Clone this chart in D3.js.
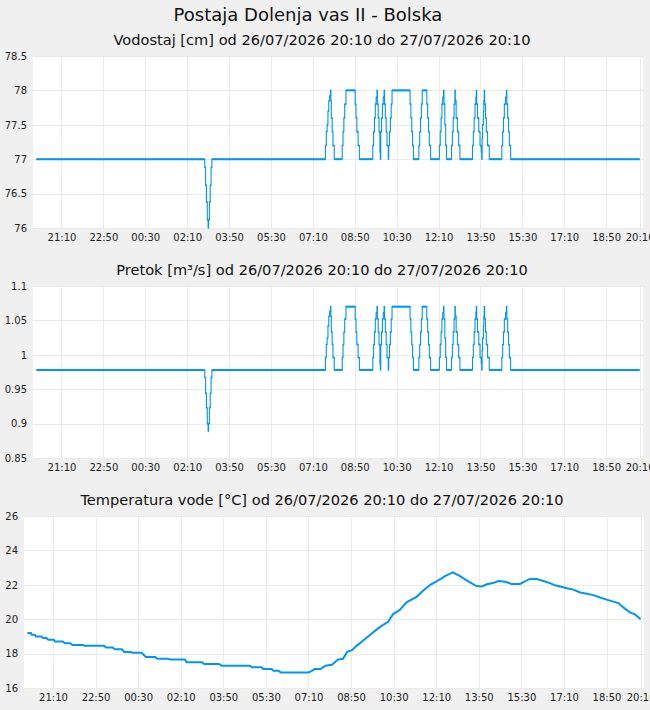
<!DOCTYPE html>
<html>
<head>
<meta charset="utf-8">
<script src="https://cdn.jsdelivr.net/npm/d3@7"></script>
<style>
  html, body { margin: 0; padding: 0; background: #f0f0f0; }
  svg { display: block; font-family: "DejaVu Sans", sans-serif; }
</style>
</head>
<body>
<svg id="chart" width="650" height="710"></svg>
<script>
// ---------- DATA ----------
const mainTitle = "Postaja Dolenja vas II - Bolska";
const panelTitles = [
  "Vodostaj [cm] od 26/07/2026 20:10 do 27/07/2026 20:10",
  "Pretok [m³/s] od 26/07/2026 20:10 do 27/07/2026 20:10",
  "Temperatura vode [°C] od 26/07/2026 20:10 do 27/07/2026 20:10"
];

// x ticks (minutes after 26/07/2026 20:10)
const tickMinutes = [60,160,260,360,460,560,660,760,860,960,1060,1160,1260,1360,1440];
const tickLabels = ["21:10","22:50","00:30","02:10","03:50","05:30","07:10","08:50","10:30","12:10","13:50","15:30","17:10","18:50","20:10"];

// y ticks
const levelTicks = [76, 76.5, 77, 77.5, 78, 78.5];
const flowTicks = [0.85, 0.9, 0.95, 1, 1.05, 1.1];
const tempTicks = [16, 18, 20, 22, 24, 26];

// level & flow: step series, change points (minutes after start)
const stepMinutes = [0,
  402,404,406,408,410,411,413,415,417,419,
  690,692,694,696,698,700,702,703,704,706,708,711,
  730,732,734,736,739,761,763,765,768,771,
  803,805,807,809,811,813,814,816,818,820,821,822,824,826,828,
  830,831,833,835,837,840,841,843,845,847,
  849,892,894,896,898,900,
  913,915,917,919,921,932,934,936,938,941,
  962,964,966,968,970,972,973,975,977,979,
  991,993,995,997,999,1000,1002,1005,1008,1011,
  1041,1043,1045,1047,1049,1050,1051,1053,1056,1059,1062,1063,1064,1065,1067,1068,
  1069,1070,1072,1074,1077,1081,
  1111,1113,1115,1117,1120,1122,1123,1125,1127,1129,1132,
  1440];

const levelValues = [77,
  76.88,76.62,76.38,76.12,76,76.12,76.38,76.62,76.88,77,
  77.2,77.4,77.5,77.7,77.85,77.92,78,77.85,77.6,77.4,77.2,77,
  77.2,77.4,77.6,77.8,78,77.8,77.6,77.4,77.2,77,
  77.2,77.4,77.6,77.8,77.9,78,77.8,77.6,77.4,77.1,77,77.4,77.6,77.8,77.9,
  78,77.8,77.6,77.4,77.2,77,77.2,77.4,77.6,77.8,
  78,77.8,77.6,77.4,77.2,77,
  77.2,77.4,77.6,77.8,78,77.8,77.6,77.4,77.2,77,
  77.2,77.4,77.6,77.8,77.9,78,77.8,77.5,77.2,77,
  77.2,77.4,77.6,77.8,78,77.85,77.6,77.4,77.2,77,
  77.2,77.4,77.6,77.8,77.9,78,77.8,77.6,77.4,77.2,77.1,77,77.3,77.5,77.7,77.85,
  78,77.8,77.6,77.4,77.2,77,
  77.2,77.4,77.6,77.8,77.9,78,77.8,77.6,77.4,77.2,77,
  77];

const flowValues = [0.978,
  0.967,0.944,0.923,0.900,0.889,0.900,0.923,0.944,0.967,0.978,
  0.996,1.015,1.024,1.042,1.056,1.063,1.070,1.056,1.033,1.015,0.996,0.978,
  0.996,1.015,1.033,1.052,1.070,1.052,1.033,1.015,0.996,0.978,
  0.996,1.015,1.033,1.052,1.061,1.070,1.052,1.033,1.015,0.987,0.978,1.015,1.033,1.052,1.061,
  1.070,1.052,1.033,1.015,0.996,0.978,0.996,1.015,1.033,1.052,
  1.070,1.052,1.033,1.015,0.996,0.978,
  0.996,1.015,1.033,1.052,1.070,1.052,1.033,1.015,0.996,0.978,
  0.996,1.015,1.033,1.052,1.061,1.070,1.052,1.024,0.996,0.978,
  0.996,1.015,1.033,1.052,1.070,1.056,1.033,1.015,0.996,0.978,
  0.996,1.015,1.033,1.052,1.061,1.070,1.052,1.033,1.015,0.996,0.987,0.978,1.006,1.024,1.042,1.056,
  1.070,1.052,1.033,1.015,0.996,0.978,
  0.996,1.015,1.033,1.052,1.061,1.070,1.052,1.033,1.015,0.996,0.978,
  0.978];

// temperature
const tempMinutes = [0,8,10,17,20,33,37,45,49,62,65,83,88,100,106,130,135,180,185,200,
  206,222,227,242,247,268,278,300,305,330,335,370,374,410,415,450,456,522,527,550,
  554,573,578,590,595,660,668,675,688,694,700,715,720,729,741,751,762,773,788,805,
  828,847,859,875,891,914,929,946,961,981,999,1016,1035,1055,1067,1079,1093,1106,1122,1137,
  1157,1165,1180,1196,1212,1227,1239,1251,1267,1282,1298,1314,1329,1345,1360,1376,1388,1400,1415,1427,1440];
const tempValues = [19.2,19.2,19.1,19.1,19.0,19.0,18.9,18.9,18.8,18.8,18.7,18.7,18.6,18.6,18.5,18.5,18.45,18.45,18.35,18.35,
  18.25,18.25,18.1,18.1,18.05,18.05,17.8,17.8,17.7,17.7,17.65,17.65,17.5,17.5,17.4,17.4,17.3,17.3,17.2,17.2,
  17.1,17.1,17.0,17.0,16.9,16.9,17.0,17.1,17.1,17.2,17.3,17.35,17.45,17.65,17.7,18.1,18.2,18.45,18.75,19.1,
  19.55,19.85,20.3,20.55,21.0,21.3,21.65,22.0,22.2,22.5,22.72,22.5,22.2,21.93,21.9,22.03,22.1,22.22,22.18,22.05,
  22.05,22.15,22.34,22.34,22.22,22.1,21.97,21.9,21.8,21.72,21.55,21.48,21.4,21.26,21.14,21.02,20.94,20.67,20.4,20.28,20.0];

// ---------- DRAW ----------
const svg = d3.select("#chart");
const lineColor = "#0096f0";
const gridColor = "#ebebeb";

svg.append("text").attr("x", 308).attr("y", 21).attr("text-anchor", "middle")
  .attr("font-size", 18).attr("fill", "#111").text(mainTitle);

const panels = [
  { title: panelTitles[0], titleY: 45, left: 33, right: 643, top: 56, bottom: 228,
    yDomain: [76, 78.5], yTicks: levelTicks, fmt: d3.format("~g"),
    t: stepMinutes, v: levelValues, kind: "step" },
  { title: panelTitles[1], titleY: 275, left: 33, right: 643, top: 286, bottom: 458,
    yDomain: [0.85, 1.1], yTicks: flowTicks, fmt: d3.format("~g"),
    t: stepMinutes, v: flowValues, kind: "step" },
  { title: panelTitles[2], titleY: 505, left: 24, right: 644, top: 516, bottom: 688,
    yDomain: [16, 26], yTicks: tempTicks, fmt: d3.format("~g"),
    t: tempMinutes, v: tempValues, kind: "line" }
];

panels.forEach(p => {
  const x = d3.scaleLinear().domain([-8, 1448]).range([p.left, p.right]);
  const y = d3.scaleLinear().domain(p.yDomain).range([p.bottom, p.top]);
  const g = svg.append("g");

  g.append("text").attr("x", 322).attr("y", p.titleY).attr("text-anchor", "middle")
    .attr("font-size", 14.6).attr("fill", "#111").text(p.title);

  g.append("rect").attr("x", p.left).attr("y", p.top)
    .attr("width", p.right - p.left).attr("height", p.bottom - p.top).attr("fill", "#fff");

  // grid
  g.append("g").selectAll("line").data(tickMinutes).join("line")
    .attr("x1", d => Math.round(x(d)) + 0.5).attr("x2", d => Math.round(x(d)) + 0.5)
    .attr("y1", p.top).attr("y2", p.bottom)
    .attr("stroke", gridColor).attr("stroke-width", 1);
  g.append("g").selectAll("line").data(p.yTicks).join("line")
    .attr("x1", p.left).attr("x2", p.right)
    .attr("y1", d => Math.round(y(d)) + 0.5).attr("y2", d => Math.round(y(d)) + 0.5)
    .attr("stroke", gridColor).attr("stroke-width", 1);

  // axes
  const xAxis = d3.axisBottom(x).tickValues(tickMinutes)
    .tickFormat((d, i) => tickLabels[i]).tickSize(0).tickPadding(6);
  const xg = g.append("g").attr("transform", `translate(0,${p.bottom})`).call(xAxis);
  const yAxis = d3.axisLeft(y).tickValues(p.yTicks).tickFormat(p.fmt).tickSize(0).tickPadding(6);
  const yg = g.append("g").attr("transform", `translate(${p.left},0)`).call(yAxis);
  [xg, yg].forEach(a => {
    a.select(".domain").remove();
    a.selectAll("text").attr("font-size", 10).attr("fill", "#222")
      .attr("font-family", "DejaVu Sans, sans-serif");
  });

  const pts = p.t.map((t, i) => [t, p.v[i]]);
  if (p.kind === "step") {
    const line = d3.line().x(d => x(d[0])).y(d => y(d[1])).curve(d3.curveStepAfter);
    g.append("path").attr("d", line(pts)).attr("fill", "none")
      .attr("stroke", lineColor).attr("stroke-width", 1.1);
    // horizontal runs drawn heavier, as in the reference
    const segs = pts.slice(0, -1).map((d, i) => [d, [pts[i + 1][0], d[1]]]);
    g.append("g").selectAll("line").data(segs).join("line")
      .attr("x1", d => x(d[0][0])).attr("x2", d => x(d[1][0]))
      .attr("y1", d => y(d[0][1])).attr("y2", d => y(d[1][1]))
      .attr("stroke", lineColor).attr("stroke-width", 2);
  } else {
    const line = d3.line().x(d => x(d[0])).y(d => y(d[1]));
    g.append("path").attr("d", line(pts)).attr("fill", "none")
      .attr("stroke", lineColor).attr("stroke-width", 2);
  }
});
</script>
</body>
</html>
